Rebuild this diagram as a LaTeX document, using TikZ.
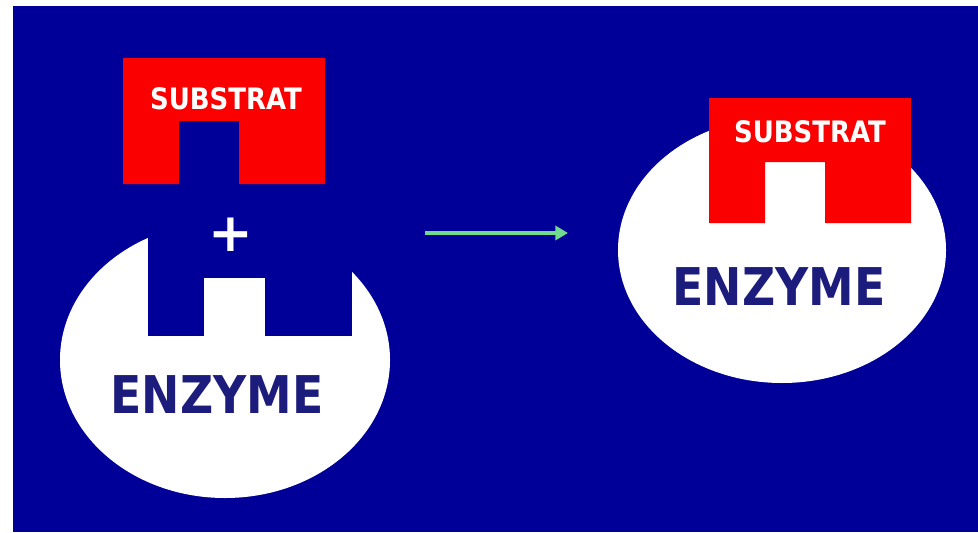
\documentclass[tikz,border=0pt]{standalone}
\usepackage{fontspec}
\setmainfont{DejaVu Sans}
\newfontfamily\labelfont[FakeStretch=0.88]{DejaVu Sans}
\usetikzlibrary{arrows.meta}
\definecolor{bgblue}{RGB}{0,0,153}
\definecolor{subred}{RGB}{250,0,0}
\definecolor{enzblue}{RGB}{28,28,124}
\definecolor{arrowgreen}{RGB}{110,220,140}

\begin{document}
\begin{tikzpicture}[x=.025cm,y=-.025cm,
		substrat/.style={fill=subred},
		enzyme/.style={fill=white},
		subtext/.style={text=white,inner sep=0pt,font=\labelfont\bfseries\fontsize{21pt}{21pt}\selectfont},
		enztext/.style={text=enzblue,inner sep=0pt,font=\labelfont\bfseries\fontsize{37pt}{37pt}\selectfont}]
	\fill[white] (0,0) rectangle (978,532);
	\fill[bgblue] (13,6) rectangle (978,532);
	
	\coordinate (enzi) at (225,360);
	\coordinate (enzii) at (782,250);
	\coordinate (subi) at (123,58);
	\coordinate (subii) at (709,98);
	
	% free substrate and enzyme
	\fill[substrat] (subi) -- ++(202,0) -- ++(0,126) -- ++(-86,0) -- ++(0,-63) -- ++(-60,0) -- ++(0,63) -- ++(-56,0) -- cycle;
	\fill[enzyme] (enzi) ellipse (165 and 138);
	\fill[bgblue] (148,215) rectangle (352,336);
	\fill[enzyme] (204,278) rectangle (265,336);
	
	\node[subtext] (si) at (226,99) {SUBSTRAT};
	\node[text=white,inner sep=0pt,font=\bfseries\fontsize{38pt}{38pt}\selectfont] (plus) at (231,235) {+};
	\node[enztext] (ei) at (217,395) {ENZYME};
	
	% complex
	\fill[enzyme] (enzii) ellipse (164 and 133);
	\fill[substrat] (subii) -- ++(202,0) -- ++(0,125) -- ++(-86,0) -- ++(0,-61) -- ++(-60,0) -- ++(0,61) -- ++(-56,0) -- cycle;
	\node[subtext] (sii) at (810,132) {SUBSTRAT};
	\node[enztext] (eii) at (779,287) {ENZYME};
	
	\coordinate (from) at (425,233);
	\coordinate (to) at (568,233);
	\draw[arrowgreen,line width=2.6pt,-{Triangle[length=9pt,width=10pt]}] (from) -- (to);
\end{tikzpicture}
\end{document}
